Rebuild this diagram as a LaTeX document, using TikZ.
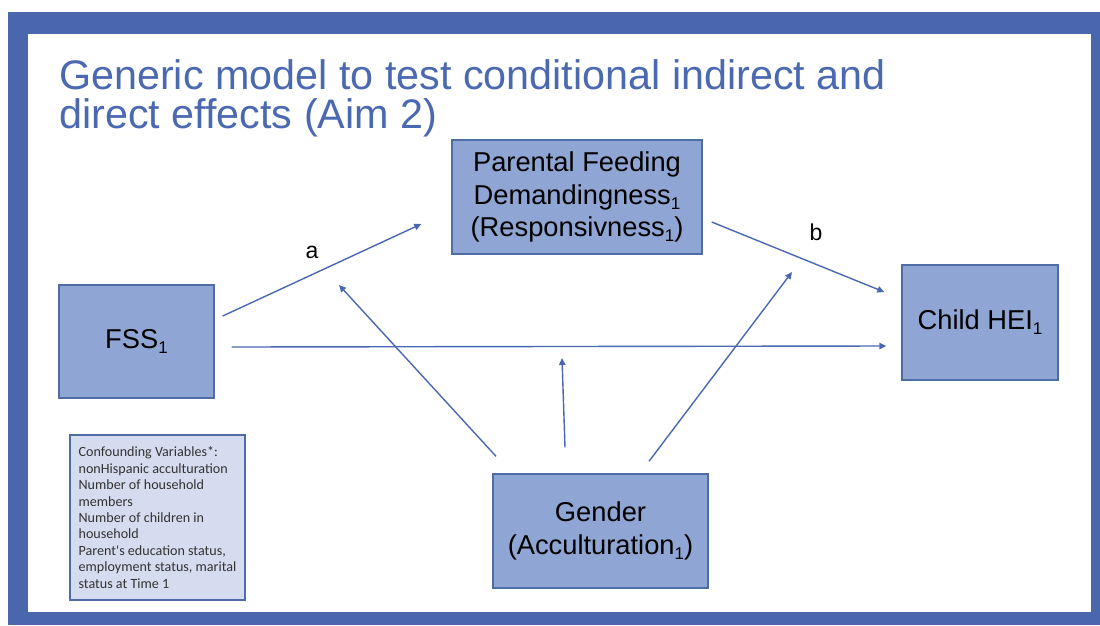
\documentclass[tikz,border=0pt]{standalone}
\usepackage{fontspec}
\setmainfont{Liberation Sans}
\newfontfamily\calib{Carlito}
\usetikzlibrary{arrows.meta}
\definecolor{frameblue}{HTML}{4A66AC}
\definecolor{titleblue}{HTML}{4B69B1}
\definecolor{boxfill}{HTML}{8FA5D3}
\definecolor{boxline}{HTML}{4F6CA5}
\definecolor{conffill}{HTML}{D6DCEF}
\definecolor{arrblue}{HTML}{4A68B2}
\newcommand\mysub[1]{\raisebox{-5pt}{\fontsize{17}{17}\selectfont #1}}
\tikzset{
  varbox/.style={draw=boxline, line width=1.4pt, fill=boxfill, align=center,
    font=\fontsize{27.3}{32.5}\selectfont, text=black, inner sep=0pt},
  confbox/.style={draw=boxline, line width=1.4pt, fill=conffill, align=left,
    font=\calib\fontsize{14.1}{16.4}\selectfont, text=black!80, inner sep=0pt,
    minimum width=175pt, minimum height=165pt},
  arr/.style={draw=arrblue, line width=1.4pt, -{Triangle[length=7pt,width=6.5pt]}},
  lab/.style={font=\fontsize{23}{26}\selectfont, text=black, anchor=base, inner sep=0pt},
  ttl/.style={font=\fontsize{41.3}{39}\selectfont, text=titleblue, anchor=base west, inner sep=0pt}
}
\begin{document}
\begin{tikzpicture}[x=1pt,y=-1pt]
\useasboundingbox (0,0) rectangle (1100,625);
\fill[white] (0,0) rectangle (1100,625);
\fill[frameblue] (8,12) rectangle (1100,625);
\fill[white] (28,34) rectangle (1091,612);

\node[ttl] (t1) at (59,89) {Generic model to test conditional indirect and};
\node[ttl] (t2) at (59,128) {direct effects (Aim 2)};

\node[varbox, minimum width=250pt, minimum height=114pt] (par) at (577,197)
  {Parental Feeding\\Demandingness\mysub{1}\\(Responsivness\mysub{1})};
\node[varbox, minimum width=155pt, minimum height=113pt] (fss) at (136.5,341.5)
  {FSS\mysub{1}};
\node[varbox, minimum width=156pt, minimum height=115pt] (hei) at (980,322.5)
  {Child HEI\mysub{1}};
\node[varbox, minimum width=215pt, minimum height=114pt] (gen) at (600.5,531)
  {Gender\\(Acculturation\mysub{1})};
\node[confbox] (conf) at (157.5,517.5)
  {Confounding Variables*:\\nonHispanic acculturation\\Number of household\\members\\Number of children in\\household\\Parent's education status,\\employment status, marital\\status at Time 1};

\node[lab] (la) at (312,258) {a};
\node[lab] (lb) at (816,240) {b};

\coordinate (ma) at (339,285);
\coordinate (mc) at (562,358);
\coordinate (mb) at (792,272);

\draw[arr] ([xshift=8pt,yshift=25.5pt]fss.east) -- ([xshift=-30pt,yshift=-27pt]par.west);
\draw[arr] ([xshift=9pt,yshift=-25pt]par.east) -- ([xshift=-17pt,yshift=30.5pt]hei.west);
\draw[arr] ([xshift=17pt,yshift=-5.5pt]fss.east) -- ([xshift=-15pt,yshift=-23.5pt]hei.west);
\draw[arr] ([xshift=-104.5pt,yshift=17pt]gen.north) -- (ma);
\draw[arr] ([xshift=-35.5pt,yshift=26pt]gen.north) -- (mc);
\draw[arr] ([xshift=48.5pt,yshift=12pt]gen.north) -- (mb);
\end{tikzpicture}
\end{document}
